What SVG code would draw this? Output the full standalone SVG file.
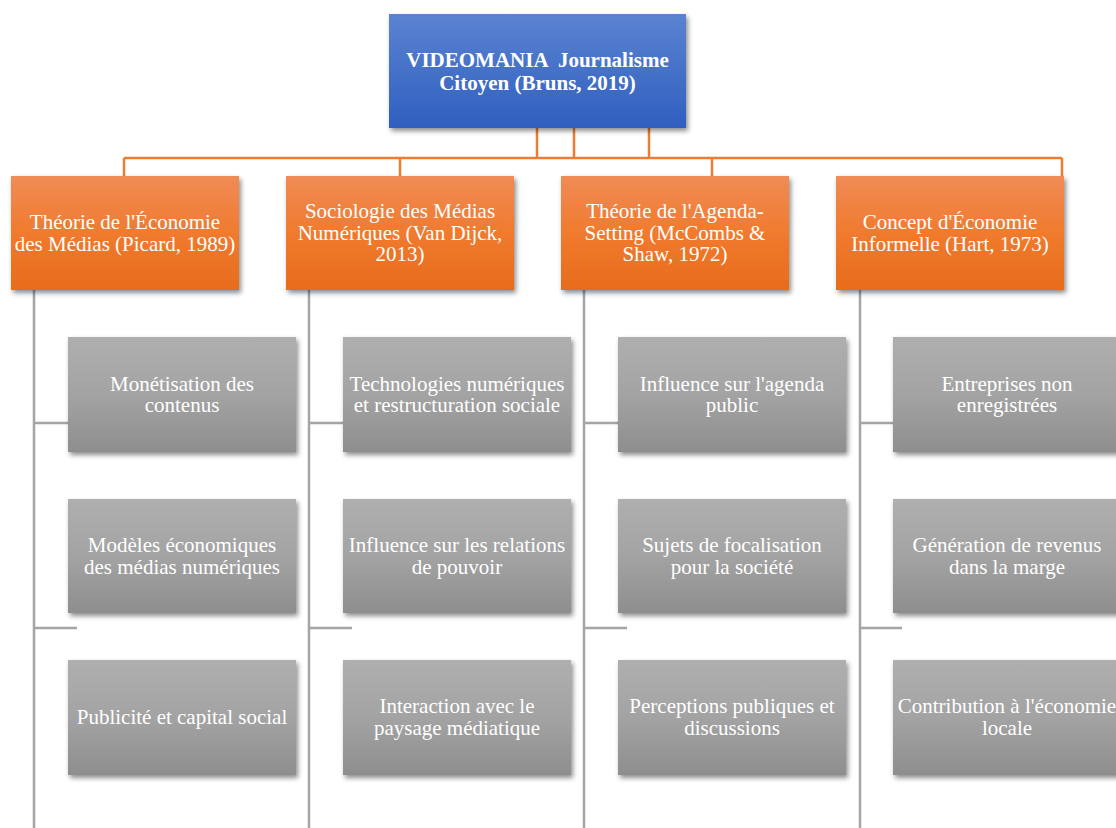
<svg xmlns="http://www.w3.org/2000/svg" width="1116" height="828" viewBox="0 0 1116 828">
<style>
text{font-family:"Liberation Serif","Times New Roman",serif;font-size:21px;fill:#ffffff;text-anchor:middle}
.b{font-weight:bold;white-space:pre}
.oc{stroke:#ed7d31;stroke-width:2.5;fill:none}
.gc{stroke:#a5a5a5;stroke-width:2.5;fill:none}
</style>
<defs>
<linearGradient id="gb" x1="0" y1="0" x2="0" y2="1"><stop offset="0" stop-color="#5b83d1"/><stop offset="1" stop-color="#2f5fbf"/></linearGradient>
<linearGradient id="go" x1="0" y1="0" x2="0" y2="1"><stop offset="0" stop-color="#f08c56"/><stop offset="0.5" stop-color="#f07a2e"/><stop offset="1" stop-color="#e86c1c"/></linearGradient>
<linearGradient id="gg" x1="0" y1="0" x2="0" y2="1"><stop offset="0" stop-color="#afafaf"/><stop offset="0.5" stop-color="#a3a3a3"/><stop offset="1" stop-color="#8e8e8e"/></linearGradient>
<filter id="sh" x="-10%" y="-10%" width="125%" height="135%"><feDropShadow dx="2" dy="3" stdDeviation="2.5" flood-color="#000" flood-opacity="0.45"/></filter>
</defs>

<g id="connectors">
<path class="oc" d="M537,128V158M574,128V158M649,128V158M124,158H1062M124,158V176M400,158V176M712,158V176M1062,158V176"/>
<path class="gc" d="M34,290V828M34,423H68M34,628H77"/>
<path class="gc" d="M309,290V828M309,423H343M309,628H352"/>
<path class="gc" d="M584,290V828M584,423H618M584,628H627"/>
<path class="gc" d="M860,290V828M860,423H893M860,628H902"/>
</g>

<g id="root"><rect x="389" y="14" width="297" height="114" fill="url(#gb)" filter="url(#sh)"/><text class="b" x="537.5" y="67">VIDEOMANIA  Journalisme</text><text class="b" x="537.5" y="89.5">Citoyen (Bruns, 2019)</text></g>

<g id="t1"><rect x="11" y="176" width="228" height="114" fill="url(#go)" filter="url(#sh)"/><text x="125" y="228.5">Théorie de l'Économie</text><text x="125" y="251">des Médias (Picard, 1989)</text></g>
<g id="t2"><rect x="286" y="176" width="228" height="114" fill="url(#go)" filter="url(#sh)"/><text x="400" y="217.5">Sociologie des Médias</text><text x="400" y="239.5">Numériques (Van Dijck,</text><text x="400" y="261">2013)</text></g>
<g id="t3"><rect x="561" y="176" width="228" height="114" fill="url(#go)" filter="url(#sh)"/><text x="675" y="217.5">Théorie de l'Agenda-</text><text x="675" y="239.5">Setting (McCombs &amp;</text><text x="675" y="261">Shaw, 1972)</text></g>
<g id="t4"><rect x="836" y="176" width="228" height="114" fill="url(#go)" filter="url(#sh)"/><text x="950" y="228.5">Concept d'Économie</text><text x="950" y="251">Informelle (Hart, 1973)</text></g>

<g id="c1a"><rect x="68" y="337" width="228" height="115" fill="url(#gg)" filter="url(#sh)"/><text x="182" y="390.5">Monétisation des</text><text x="182" y="412">contenus</text></g>
<g id="c1b"><rect x="68" y="499" width="228" height="114" fill="url(#gg)" filter="url(#sh)"/><text x="182" y="552">Modèles économiques</text><text x="182" y="574">des médias numériques</text></g>
<g id="c1c"><rect x="68" y="660" width="228" height="115" fill="url(#gg)" filter="url(#sh)"/><text x="182" y="724">Publicité et capital social</text></g>

<g id="c2a"><rect x="343" y="337" width="228" height="115" fill="url(#gg)" filter="url(#sh)"/><text x="457" y="390.5">Technologies numériques</text><text x="457" y="412">et restructuration sociale</text></g>
<g id="c2b"><rect x="343" y="499" width="228" height="114" fill="url(#gg)" filter="url(#sh)"/><text x="457" y="552">Influence sur les relations</text><text x="457" y="574">de pouvoir</text></g>
<g id="c2c"><rect x="343" y="660" width="228" height="115" fill="url(#gg)" filter="url(#sh)"/><text x="457" y="713">Interaction avec le</text><text x="457" y="735">paysage médiatique</text></g>

<g id="c3a"><rect x="618" y="337" width="228" height="115" fill="url(#gg)" filter="url(#sh)"/><text x="732" y="390.5">Influence sur l'agenda</text><text x="732" y="412">public</text></g>
<g id="c3b"><rect x="618" y="499" width="228" height="114" fill="url(#gg)" filter="url(#sh)"/><text x="732" y="552">Sujets de focalisation</text><text x="732" y="574">pour la société</text></g>
<g id="c3c"><rect x="618" y="660" width="228" height="115" fill="url(#gg)" filter="url(#sh)"/><text x="732" y="713">Perceptions publiques et</text><text x="732" y="735">discussions</text></g>

<g id="c4a"><rect x="893" y="337" width="228" height="115" fill="url(#gg)" filter="url(#sh)"/><text x="1007" y="390.5">Entreprises non</text><text x="1007" y="412">enregistrées</text></g>
<g id="c4b"><rect x="893" y="499" width="228" height="114" fill="url(#gg)" filter="url(#sh)"/><text x="1007" y="552">Génération de revenus</text><text x="1007" y="574">dans la marge</text></g>
<g id="c4c"><rect x="893" y="660" width="228" height="115" fill="url(#gg)" filter="url(#sh)"/><text x="1007" y="713">Contribution à l'économie</text><text x="1007" y="735">locale</text></g>
</svg>
